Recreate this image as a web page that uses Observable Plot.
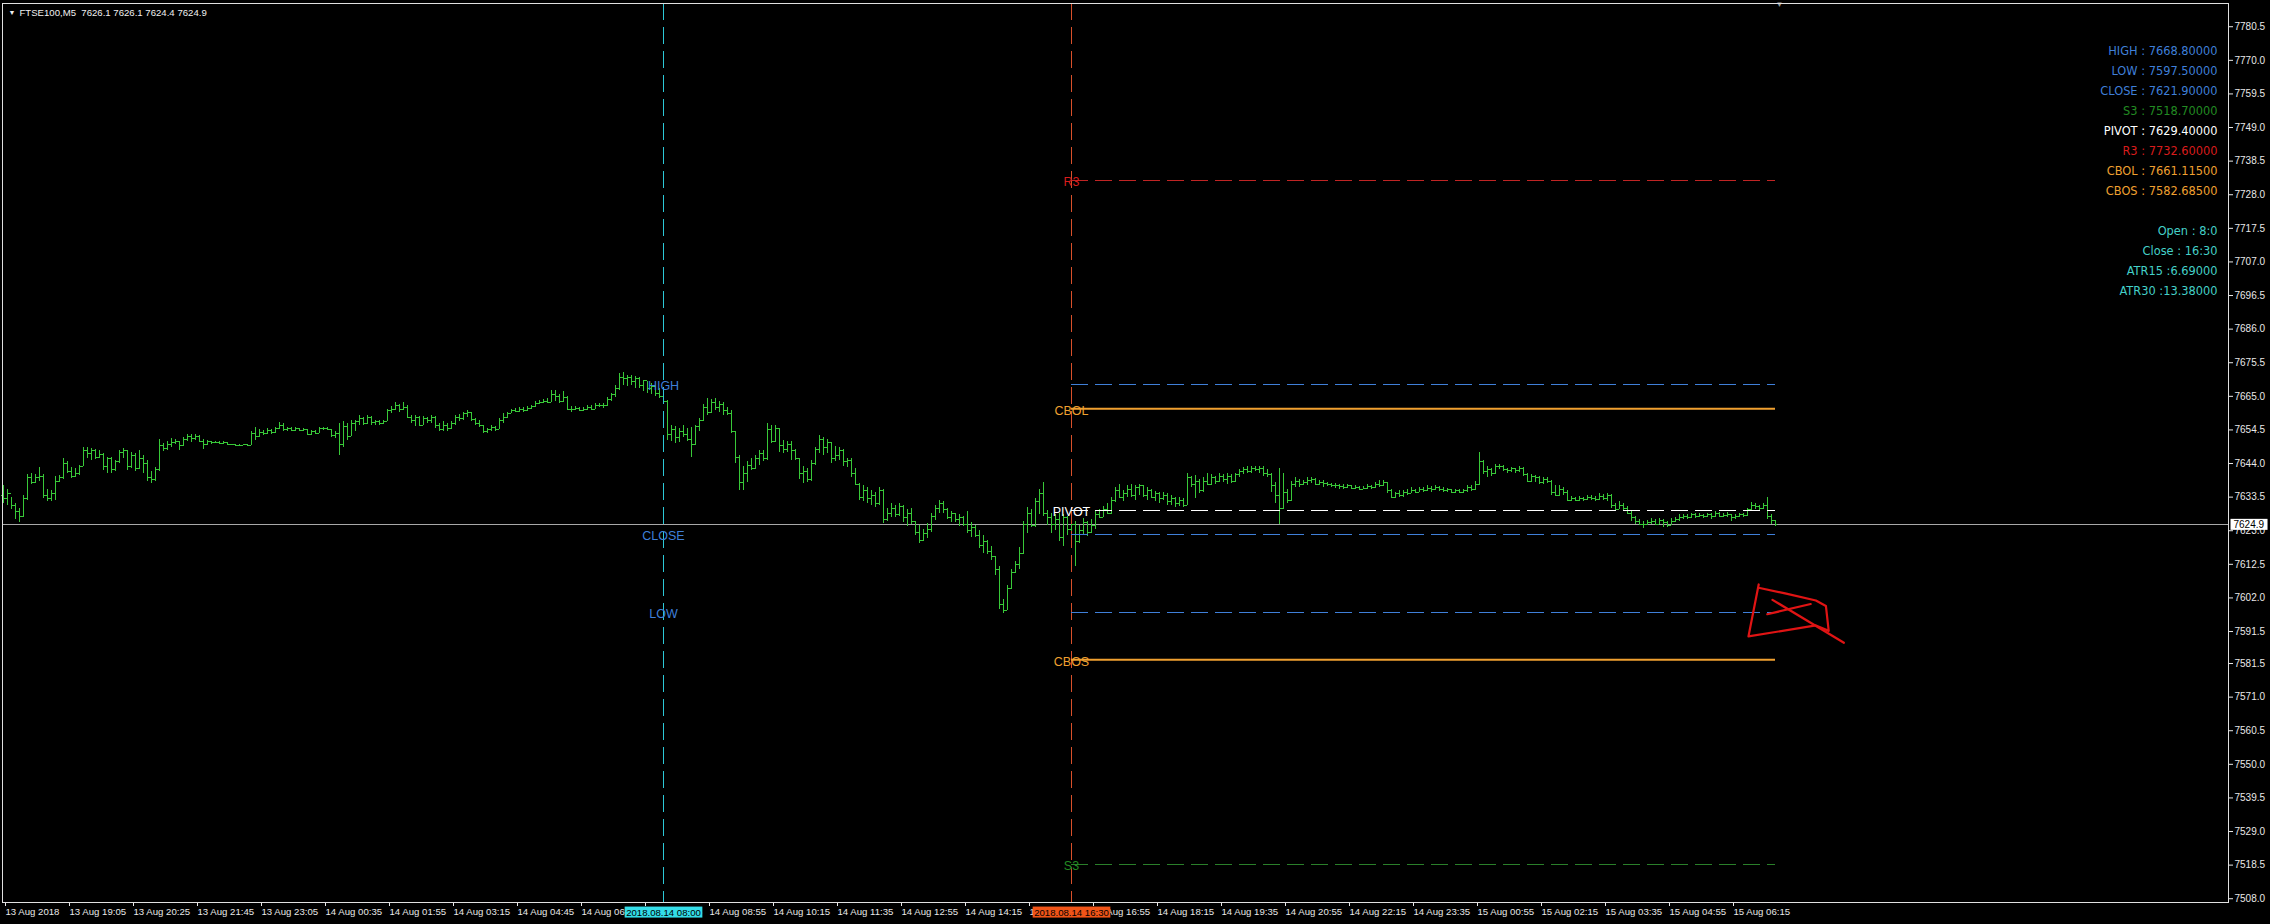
<!DOCTYPE html>
<html><head><meta charset="utf-8">
<script src="https://cdn.jsdelivr.net/npm/d3@7"></script>
<script src="https://cdn.jsdelivr.net/npm/@observablehq/plot@0.6"></script>
<style>html,body{margin:0;padding:0;background:#000;overflow:hidden}</style>
</head><body><div id="chart"></div>
<script>
// ---------------- DATA ----------------
const symbol = "FTSE100,M5";

const open = [
7634.0,7633.0,7634.5,7631.0,7629.0,7627.5,7633.0,7639.5,7638.0,7639.5,
7640.0,7634.0,7633.0,7634.5,7638.5,7639.5,7644.0,7641.5,7640.0,7641.0,
7643.0,7648.0,7647.0,7648.0,7646.0,7646.8,7643.0,7645.5,7642.0,7644.5,
7647.5,7648.0,7643.0,7646.5,7642.5,7645.5,7644.0,7639.5,7639.0,7642.0,
7649.5,7648.8,7650.0,7650.5,7651.0,7649.5,7651.5,7652.5,7651.8,7652.6,
7651.0,7649.8,7650.8,7650.5,7650.7,7650.3,7650.5,7650.0,7649.8,7649.7,
7649.7,7649.8,7649.7,7653.5,7652.5,7653.8,7653.5,7654.2,7653.8,7655.0,
7656.0,7654.5,7655.0,7654.3,7654.8,7654.2,7654.5,7653.2,7654.0,7653.5,
7654.8,7655.0,7654.5,7652.8,7653.5,7650.0,7655.5,7652.5,7656.5,7657.0,
7658.0,7656.5,7658.5,7656.8,7657.0,7656.5,7657.2,7660.5,7661.0,7662.0,
7661.0,7661.5,7658.5,7657.5,7658.5,7656.0,7658.0,7657.5,7658.5,7656.0,
7654.5,7656.0,7654.8,7656.5,7658.5,7658.0,7659.5,7660.0,7657.8,7656.5,
7656.0,7654.0,7654.5,7655.2,7654.5,7657.5,7658.5,7659.5,7660.5,7660.2,
7661.0,7660.5,7661.2,7661.8,7662.8,7663.0,7663.5,7663.0,7665.5,7665.0,
7663.5,7664.5,7661.0,7660.8,7661.2,7660.7,7661.0,7661.5,7661.0,7662.0,
7662.2,7662.0,7664.0,7665.5,7667.5,7671.0,7670.5,7671.0,7669.5,7670.5,
7668.5,7670.0,7667.5,7668.0,7666.0,7665.0,7663.5,7653.0,7654.5,7652.0,
7654.0,7653.0,7651.5,7650.0,7655.5,7657.5,7661.5,7660.0,7663.0,7661.5,
7662.5,7660.5,7659.5,7654.0,7646.0,7638.0,7641.0,7643.5,7642.5,7645.5,
7647.0,7645.5,7654.5,7651.0,7655.0,7649.5,7648.5,7650.0,7648.0,7645.5,
7641.0,7641.5,7639.0,7644.0,7648.5,7651.5,7649.0,7650.5,7645.5,7646.5,
7648.0,7644.5,7645.0,7641.0,7637.5,7633.5,7635.5,7633.0,7634.0,7631.5,
7635.5,7626.5,7628.5,7630.0,7628.0,7630.5,7627.0,7628.5,7626.0,7622.5,
7620.0,7622.0,7623.5,7627.5,7630.0,7631.5,7629.5,7627.0,7628.5,7626.5,
7627.0,7625.0,7623.0,7624.0,7621.5,7618.5,7619.5,7616.5,7615.0,7611.0,
7600.0,7598.0,7605.0,7610.0,7612.5,7616.0,7625.0,7628.5,7624.5,7632.0,
7634.5,7628.5,7627.0,7625.0,7626.5,7621.0,7627.0,7623.5,7625.0,7619.5,
7623.0,7625.5,7622.5,7624.5,7628.0,7627.0,7629.5,7628.5,7632.5,7635.5,
7633.5,7634.5,7636.0,7634.0,7636.5,7637.0,7634.0,7635.5,7633.5,7634.5,
7633.0,7634.0,7632.0,7633.0,7631.5,7632.5,7631.0,7639.5,7637.5,7638.5,
7635.5,7638.5,7637.5,7639.5,7638.5,7640.0,7639.0,7640.0,7638.5,7640.5,
7641.5,7642.0,7641.5,7642.5,7642.0,7642.5,7641.0,7640.5,7637.0,7634.0,
7630.0,7635.0,7632.5,7637.5,7638.5,7637.5,7638.0,7638.8,7639.0,7637.5,
7638.2,7637.8,7637.5,7637.0,7637.2,7636.8,7636.5,7637.0,7636.2,7636.5,
7636.0,7636.2,7636.8,7636.5,7637.5,7637.0,7638.0,7635.5,7633.5,7634.5,
7634.0,7635.0,7634.5,7635.5,7635.0,7636.0,7635.5,7636.2,7635.8,7636.5,
7636.0,7635.5,7635.8,7635.0,7635.5,7634.8,7635.5,7636.5,7636.0,7637.5,
7644.5,7641.5,7642.0,7641.0,7643.0,7643.0,7642.0,7641.8,7642.3,7641.7,
7642.5,7640.5,7638.5,7640.0,7639.5,7638.0,7639.0,7638.5,7635.0,7634.0,
7636.0,7635.0,7632.5,7633.0,7632.5,7633.2,7632.8,7633.5,7633.0,7632.8,
7633.8,7633.0,7634.0,7631.0,7629.5,7631.0,7630.0,7628.5,7627.0,7626.0,
7625.0,7624.8,7625.5,7625.8,7625.0,7626.2,7625.5,7624.5,7626.0,7626.5,
7627.0,7627.5,7627.0,7628.0,7627.5,7627.8,7627.3,7628.0,7627.5,7628.3,
7627.5,7627.8,7628.0,7627.0,7627.5,7628.0,7627.8,7629.5,7631.0,7630.5,
7630.0,7631.0,7627.5,7626.1
];

const high = [
7637.2,7636.0,7633.5,7631.5,7630.0,7634.0,7640.5,7641.0,7640.5,7642.9,
7640.5,7636.0,7635.5,7640.0,7640.3,7645.5,7644.5,7642.9,7642.5,7643.5,
7649.0,7649.0,7648.8,7648.5,7648.0,7647.0,7646.0,7646.0,7645.0,7648.0,
7648.6,7648.0,7647.5,7647.0,7648.0,7646.5,7645.0,7641.5,7642.9,7651.5,
7650.2,7650.8,7651.8,7651.5,7651.0,7652.0,7653.1,7653.0,7653.1,7652.8,
7651.5,7651.2,7651.0,7651.0,7650.8,7650.9,7650.6,7650.1,7650.0,7649.9,
7650.0,7649.9,7654.0,7655.4,7654.5,7654.2,7655.0,7654.5,7655.4,7656.7,
7656.5,7655.4,7655.2,7655.3,7655.0,7655.0,7654.6,7654.4,7654.2,7655.2,
7655.4,7655.3,7654.6,7654.0,7656.5,7657.0,7656.5,7657.5,7657.5,7659.1,
7658.5,7659.1,7658.6,7657.5,7657.5,7657.5,7661.0,7661.7,7663.2,7662.5,
7663.0,7662.0,7659.0,7659.1,7658.8,7658.6,7658.5,7659.1,7658.8,7656.5,
7657.0,7656.5,7657.0,7659.0,7659.2,7660.1,7660.5,7660.0,7658.0,7657.5,
7656.0,7655.0,7655.9,7655.5,7658.0,7659.6,7660.0,7661.0,7661.2,7661.5,
7661.6,7661.8,7662.2,7663.3,7663.8,7664.0,7664.3,7666.9,7666.8,7665.5,
7666.5,7665.0,7661.7,7661.7,7661.5,7661.6,7662.0,7662.2,7662.7,7662.7,
7662.7,7664.5,7665.8,7668.5,7672.0,7672.3,7671.6,7671.5,7671.2,7670.8,
7670.0,7669.5,7669.0,7668.5,7667.5,7666.0,7663.8,7655.9,7655.5,7655.0,
7655.9,7655.0,7655.4,7656.0,7658.0,7662.5,7664.3,7664.0,7664.3,7663.5,
7663.0,7661.5,7660.6,7654.0,7646.6,7643.0,7644.5,7645.5,7646.5,7648.1,
7648.0,7656.5,7656.0,7656.0,7655.0,7651.3,7651.0,7651.0,7648.5,7645.5,
7643.0,7642.5,7645.0,7649.0,7652.8,7652.0,7651.5,7650.5,7649.2,7649.0,
7648.5,7645.5,7645.5,7642.5,7637.7,7637.0,7636.5,7635.5,7635.0,7636.5,
7636.0,7630.0,7631.5,7631.0,7631.5,7631.0,7629.5,7630.0,7626.0,7624.5,
7623.5,7625.2,7628.5,7631.0,7632.5,7632.0,7630.0,7628.9,7628.5,7628.0,
7627.5,7628.9,7625.5,7624.5,7623.1,7621.5,7620.0,7618.0,7615.0,7611.7,
7601.5,7606.0,7611.0,7613.5,7617.9,7626.0,7630.4,7629.5,7633.0,7636.0,
7638.2,7629.4,7628.5,7628.0,7628.3,7628.0,7627.5,7628.0,7625.8,7624.5,
7626.9,7626.0,7626.5,7629.0,7629.5,7630.5,7631.4,7633.5,7636.5,7637.5,
7635.5,7637.0,7637.5,7637.0,7637.5,7637.0,7636.5,7636.0,7635.3,7635.0,
7635.0,7634.5,7634.0,7633.5,7633.5,7633.0,7640.9,7640.0,7640.2,7639.0,
7639.5,7640.9,7640.5,7640.0,7640.9,7640.5,7640.8,7640.5,7641.0,7642.0,
7642.8,7643.1,7643.0,7643.1,7643.1,7643.0,7642.0,7640.8,7638.0,7642.5,
7640.9,7636.0,7638.5,7639.7,7639.0,7638.8,7639.5,7639.7,7639.2,7638.8,
7638.6,7638.2,7637.8,7637.8,7637.5,7637.3,7637.5,7637.2,7637.0,7636.8,
7636.8,7637.3,7637.0,7638.0,7638.6,7638.6,7638.0,7636.0,7635.0,7635.5,
7635.5,7636.0,7636.4,7636.0,7636.6,7636.5,7637.0,7636.7,7637.0,7636.8,
7636.5,7636.3,7636.0,7636.0,7635.8,7636.0,7637.0,7637.0,7638.5,7647.6,
7645.0,7643.0,7642.5,7643.6,7643.6,7643.4,7642.5,7642.8,7642.5,7643.0,
7642.8,7640.9,7640.5,7640.2,7640.0,7639.6,7639.5,7638.8,7637.0,7637.0,
7636.5,7635.5,7633.8,7633.5,7633.8,7633.5,7634.0,7634.0,7633.7,7634.7,
7634.3,7634.7,7634.2,7631.5,7632.0,7631.5,7630.5,7629.1,7627.5,7626.5,
7626.0,7626.3,7626.9,7626.5,7626.9,7626.5,7626.0,7626.9,7627.0,7628.0,
7628.2,7628.0,7628.5,7628.5,7628.3,7628.0,7628.5,7628.3,7629.1,7628.8,
7628.5,7628.8,7628.2,7628.0,7628.5,7628.5,7630.0,7631.9,7631.5,7631.0,
7631.5,7633.4,7628.0,7626.1
];

const low = [
7631.5,7631.0,7629.5,7626.5,7625.7,7627.0,7632.5,7637.5,7637.8,7638.5,
7633.0,7632.0,7632.2,7632.5,7638.2,7639.0,7640.8,7639.3,7639.5,7640.2,
7643.0,7645.5,7645.0,7645.2,7645.5,7641.9,7641.0,7640.8,7641.5,7644.0,
7645.5,7641.9,7642.5,7641.5,7642.0,7641.0,7638.5,7637.7,7638.5,7641.5,
7647.8,7648.2,7649.0,7649.8,7648.1,7649.3,7650.8,7650.7,7651.2,7650.5,
7648.5,7649.7,7650.0,7650.2,7649.9,7650.1,7649.8,7649.5,7649.5,7649.5,
7649.5,7649.5,7649.5,7651.3,7652.2,7652.8,7653.0,7653.2,7653.5,7654.5,
7654.0,7653.9,7654.0,7654.1,7653.9,7654.0,7652.8,7652.8,7653.0,7653.5,
7654.2,7654.2,7652.2,7651.8,7646.6,7649.0,7651.3,7652.3,7654.0,7656.0,
7655.9,7656.2,7656.0,7655.9,7656.0,7656.2,7657.0,7659.6,7660.5,7660.1,
7660.5,7658.0,7656.5,7655.5,7655.5,7655.9,7656.5,7656.5,7654.9,7653.9,
7654.0,7654.0,7654.5,7656.0,7657.2,7657.5,7658.5,7657.0,7656.0,7655.4,
7653.5,7653.3,7654.0,7654.0,7654.5,7656.5,7658.0,7659.6,7659.8,7660.0,
7660.0,7660.3,7661.0,7661.5,7662.5,7662.7,7662.7,7663.0,7663.5,7662.7,
7663.0,7660.5,7660.1,7660.5,7660.2,7660.2,7660.5,7660.6,7661.0,7661.5,
7661.1,7661.8,7663.5,7664.5,7666.9,7668.5,7668.0,7668.5,7667.4,7667.5,
7666.5,7666.0,7665.5,7665.0,7664.3,7663.0,7651.3,7651.0,7650.2,7650.5,
7652.0,7650.8,7646.0,7649.5,7653.9,7657.0,7659.1,7659.5,7660.5,7660.0,
7659.1,7659.0,7653.3,7644.0,7635.6,7635.6,7638.0,7641.9,7642.0,7643.5,
7644.5,7645.0,7650.2,7650.5,7647.5,7647.0,7647.5,7645.0,7645.0,7639.0,
7637.7,7638.0,7638.5,7643.5,7647.0,7646.5,7647.0,7644.0,7644.5,7645.0,
7643.0,7642.9,7639.5,7637.0,7632.5,7632.0,7631.5,7631.0,7630.4,7631.0,
7625.2,7626.0,7627.0,7627.0,7627.5,7625.5,7624.2,7625.0,7621.5,7619.0,
7619.5,7620.5,7622.5,7626.3,7628.5,7628.5,7626.5,7625.5,7625.5,7624.2,
7624.2,7622.0,7621.0,7621.0,7617.5,7616.0,7615.5,7613.8,7609.0,7598.5,
7597.1,7598.0,7604.5,7609.5,7611.0,7615.5,7622.0,7624.0,7624.0,7628.0,
7627.5,7624.5,7622.1,7623.0,7619.5,7618.0,7621.5,7618.0,7611.8,7619.0,
7621.5,7621.3,7622.0,7623.5,7626.9,7627.0,7628.0,7628.0,7631.9,7633.0,
7632.0,7633.5,7633.5,7632.5,7634.0,7633.5,7632.5,7633.0,7632.0,7631.5,
7632.5,7630.8,7631.0,7630.3,7630.5,7630.3,7631.0,7636.5,7633.0,7634.5,
7635.0,7637.0,7637.2,7637.5,7638.0,7638.0,7637.5,7637.8,7638.0,7639.7,
7640.5,7640.8,7641.0,7641.5,7641.0,7640.0,7639.7,7635.0,7631.4,7624.9,
7629.5,7631.4,7632.0,7636.5,7636.4,7637.0,7637.2,7637.8,7637.0,7637.0,
7636.5,7636.8,7636.5,7636.3,7636.0,7636.0,7636.2,7635.8,7635.8,7635.8,
7635.8,7635.9,7636.0,7636.3,7636.5,7636.8,7634.5,7633.0,7633.0,7633.5,
7633.5,7634.0,7634.5,7634.7,7634.8,7635.0,7635.2,7635.0,7635.5,7635.3,
7635.0,7634.8,7634.7,7634.7,7634.7,7634.7,7635.0,7635.3,7635.5,7637.0,
7640.5,7639.7,7640.0,7640.5,7642.0,7641.5,7641.0,7641.2,7641.0,7641.2,
7639.8,7638.0,7638.0,7638.2,7637.5,7637.5,7637.8,7634.0,7633.6,7633.8,
7634.0,7632.0,7632.0,7632.0,7632.2,7632.0,7632.3,7632.5,7632.0,7632.5,
7632.5,7632.0,7630.0,7629.1,7629.5,7629.2,7628.0,7626.0,7625.0,7624.5,
7623.6,7624.5,7624.8,7624.5,7624.8,7624.1,7624.1,7624.5,7625.5,7626.0,
7626.5,7626.5,7626.8,7626.8,7627.0,7626.8,7627.0,7626.5,7627.2,7627.0,
7627.0,7627.2,7625.8,7626.5,7627.0,7627.2,7627.5,7629.1,7629.5,7629.3,
7629.5,7626.5,7625.0,7624.4
];

const close = [
7633.0,7634.5,7631.0,7629.0,7627.5,7633.0,7639.5,7638.0,7639.5,7640.0,
7634.0,7633.0,7634.5,7638.5,7639.5,7644.0,7641.5,7640.0,7641.0,7643.0,
7648.0,7647.0,7648.0,7646.0,7646.8,7643.0,7645.5,7642.0,7644.5,7647.5,
7648.0,7643.0,7646.5,7642.5,7645.5,7644.0,7639.5,7639.0,7642.0,7649.5,
7648.8,7650.0,7650.5,7651.0,7649.5,7651.5,7652.5,7651.8,7652.6,7651.0,
7649.8,7650.8,7650.5,7650.7,7650.3,7650.5,7650.0,7649.8,7649.7,7649.7,
7649.8,7649.7,7653.5,7652.5,7653.8,7653.5,7654.2,7653.8,7655.0,7656.0,
7654.5,7655.0,7654.3,7654.8,7654.2,7654.5,7653.2,7654.0,7653.5,7654.8,
7655.0,7654.5,7652.8,7653.5,7650.0,7655.5,7652.5,7656.5,7657.0,7658.0,
7656.5,7658.5,7656.8,7657.0,7656.5,7657.2,7660.5,7661.0,7662.0,7661.0,
7661.5,7658.5,7657.5,7658.5,7656.0,7658.0,7657.5,7658.5,7656.0,7654.5,
7656.0,7654.8,7656.5,7658.5,7658.0,7659.5,7660.0,7657.8,7656.5,7656.0,
7654.0,7654.5,7655.2,7654.5,7657.5,7658.5,7659.5,7660.5,7660.2,7661.0,
7660.5,7661.2,7661.8,7662.8,7663.0,7663.5,7663.0,7665.5,7665.0,7663.5,
7664.5,7661.0,7660.8,7661.2,7660.7,7661.0,7661.5,7661.0,7662.0,7662.2,
7662.0,7664.0,7665.5,7667.5,7671.0,7670.5,7671.0,7669.5,7670.5,7668.5,
7670.0,7667.5,7668.0,7666.0,7665.0,7663.5,7653.0,7654.5,7652.0,7654.0,
7653.0,7651.5,7650.0,7655.5,7657.5,7661.5,7660.0,7663.0,7661.5,7662.5,
7660.5,7659.5,7654.0,7646.0,7638.0,7641.0,7643.5,7642.5,7645.5,7647.0,
7645.5,7654.5,7651.0,7655.0,7649.5,7648.5,7650.0,7648.0,7645.5,7641.0,
7641.5,7639.0,7644.0,7648.5,7651.5,7649.0,7650.5,7645.5,7646.5,7648.0,
7644.5,7645.0,7641.0,7637.5,7633.5,7635.5,7633.0,7634.0,7631.5,7635.5,
7626.5,7628.5,7630.0,7628.0,7630.5,7627.0,7628.5,7626.0,7622.5,7620.0,
7622.0,7623.5,7627.5,7630.0,7631.5,7629.5,7627.0,7628.5,7626.5,7627.0,
7625.0,7623.0,7624.0,7621.5,7618.5,7619.5,7616.5,7615.0,7611.0,7600.0,
7598.0,7605.0,7610.0,7612.5,7616.0,7625.0,7628.5,7624.5,7632.0,7634.5,
7628.5,7627.0,7625.0,7626.5,7621.0,7627.0,7623.5,7625.0,7619.5,7623.0,
7625.5,7622.5,7624.5,7628.0,7627.0,7629.5,7628.5,7632.5,7635.5,7633.5,
7634.5,7636.0,7634.0,7636.5,7637.0,7634.0,7635.5,7633.5,7634.5,7633.0,
7634.0,7632.0,7633.0,7631.5,7632.5,7631.0,7639.5,7637.5,7638.5,7635.5,
7638.5,7637.5,7639.5,7638.5,7640.0,7639.0,7640.0,7638.5,7640.5,7641.5,
7642.0,7641.5,7642.5,7642.0,7642.5,7641.0,7640.5,7637.0,7634.0,7630.0,
7635.0,7632.5,7637.5,7638.5,7637.5,7638.0,7638.8,7639.0,7637.5,7638.2,
7637.8,7637.5,7637.0,7637.2,7636.8,7636.5,7637.0,7636.2,7636.5,7636.0,
7636.2,7636.8,7636.5,7637.5,7637.0,7638.0,7635.5,7633.5,7634.5,7634.0,
7635.0,7634.5,7635.5,7635.0,7636.0,7635.5,7636.2,7635.8,7636.5,7636.0,
7635.5,7635.8,7635.0,7635.5,7634.8,7635.5,7636.5,7636.0,7637.5,7644.5,
7641.5,7642.0,7641.0,7643.0,7643.0,7642.0,7641.8,7642.3,7641.7,7642.5,
7640.5,7638.5,7640.0,7639.5,7638.0,7639.0,7638.5,7635.0,7634.0,7636.0,
7635.0,7632.5,7633.0,7632.5,7633.2,7632.8,7633.5,7633.0,7632.8,7633.8,
7633.0,7634.0,7631.0,7629.5,7631.0,7630.0,7628.5,7627.0,7626.0,7625.0,
7624.8,7625.5,7625.8,7625.0,7626.2,7625.5,7624.5,7626.0,7626.5,7627.0,
7627.5,7627.0,7628.0,7627.5,7627.8,7627.3,7628.0,7627.5,7628.3,7627.5,
7627.8,7628.0,7627.0,7627.5,7628.0,7627.8,7629.5,7631.0,7630.5,7630.0,
7631.0,7627.5,7626.1,7624.9
];

// bottom time axis
const xTickBars = [0,16,32,48,64,80,96,112,128,144,160,176,192,208,224,240,256,272,288,304,320,336,352,368,384,400,416,432];
const xTickLabels = ["13 Aug 2018","13 Aug 19:05","13 Aug 20:25","13 Aug 21:45","13 Aug 23:05","14 Aug 00:35","14 Aug 01:55","14 Aug 03:15","14 Aug 04:45","14 Aug 06:15","14 Aug 07:35","14 Aug 08:55","14 Aug 10:15","14 Aug 11:35","14 Aug 12:55","14 Aug 14:15","14 Aug 15:35","14 Aug 16:55","14 Aug 18:15","14 Aug 19:35","14 Aug 20:55","14 Aug 22:15","14 Aug 23:35","15 Aug 00:55","15 Aug 02:15","15 Aug 03:35","15 Aug 04:55","15 Aug 06:15"];

// right price axis
const yTicks = [7780.5,7770.0,7759.5,7749.0,7738.5,7728.0,7717.5,7707.0,7696.5,7686.0,7675.5,7665.0,7654.5,7644.0,7633.5,7623.0,7612.5,7602.0,7591.5,7581.5,7571.0,7560.5,7550.0,7539.5,7529.0,7518.5,7508.0];

// indicator levels
const levelNames  = ["HIGH","LOW","CLOSE","S3","PIVOT","R3","CBOL","CBOS"];
const levelValues = [7668.8, 7597.5, 7621.9, 7518.7, 7629.4, 7732.6, 7661.115, 7582.685];

// session markers (bar index) and their labels
const sessionBars   = [165, 267];
const sessionStamps = ["2018.08.14 08:00", "2018.08.14 16:30"];
const levelsEndBar  = 443;
const sessionNames  = ["Open", "Close"];
const sessionTimes  = ["8:0", "16:30"];
const atrNames  = ["ATR15", "ATR30"];
const atrValues = [6.69, 13.38];

// hand-drawn red annotation (bar index, price)
const scribblePath  = [0,0,0,0,0,0,0,0,1,1,2,2];
const scribbleBar   = [438.8,436.25,453.1,456.3,455.6,453.1,445.4,439.05,440.95,451.8,442.25,460.1];
const scribblePrice = [7606.2,7590.0,7593.4,7591.7,7599.5,7601.2,7603.4,7605.1,7596.9,7600.1,7601.4,7588.0];

// ---------------- STYLES ----------------
const BLUE = "#3f7fd8", ORANGE = "#f0a030";
const levelStyle = {
  HIGH:  {color: BLUE,      line: BLUE,      dashed: true,  labelAt: 0},
  LOW:   {color: BLUE,      line: BLUE,      dashed: true,  labelAt: 0},
  CLOSE: {color: BLUE,      line: BLUE,      dashed: true,  labelAt: 0},
  S3:    {color: "#228b22", line: "#2a7f2a", dashed: true,  labelAt: 1},
  PIVOT: {color: "#ffffff", line: "#ffffff", dashed: true,  labelAt: 1},
  R3:    {color: "#d81c1c", line: "#c02424", dashed: true,  labelAt: 1},
  CBOL:  {color: ORANGE,    line: ORANGE,    dashed: false, labelAt: 1},
  CBOS:  {color: ORANGE,    line: ORANGE,    dashed: false, labelAt: 1}
};
const sessionLineColors = ["#2cc8d6", "#d8502a"];
const sessionBoxColors  = ["#33dde8", "#f05418"];
const INFO = "#44d0c8";
const BAR = "#38c838";
const FONT = "Liberation Sans, Arial, sans-serif";

// ---------------- BUILD ----------------
const n = close.length;
const bars = d3.range(n).map(i => ({i, o: open[i], h: high[i], l: low[i], c: close[i]}));
const levels = levelNames.map((name, k) => ({name, value: levelValues[k], ...levelStyle[name]}));
const tickLabel = new Map(xTickBars.map((b, k) => [b, xTickLabels[k]]));
const last = bars[n - 1];
const scribble = scribbleBar.map((b, k) => ({b, p: scribblePrice[k], z: scribblePath[k]}));

const panel = [
  ...levels.map(l => ({text: `${l.name} : ${l.value.toFixed(5)}`, color: l.color})),
  null,
  ...sessionNames.map((s, k) => ({text: `${s} : ${sessionTimes[k]}`, color: INFO})),
  ...atrNames.map((s, k) => ({text: `${s} :${atrValues[k].toFixed(5)}`, color: INFO}))
];

const marks = [
  // current price line
  Plot.ruleY([last.c], {stroke: "#a8a8a8", strokeWidth: 1, shapeRendering: "crispEdges"}),
  // bars
  Plot.ruleX(bars, {x: "i", y1: "l", y2: "h", stroke: BAR, strokeWidth: 1, shapeRendering: "crispEdges"}),
  Plot.ruleY(bars, {y: "o", x1: d => d.i - 0.45, x2: "i", stroke: BAR, strokeWidth: 1, shapeRendering: "crispEdges"}),
  Plot.ruleY(bars, {y: "c", x1: "i", x2: d => d.i + 0.45, stroke: BAR, strokeWidth: 1, shapeRendering: "crispEdges"}),
  // session vertical lines
  ...sessionBars.map((b, k) => Plot.ruleX([b], {stroke: sessionLineColors[k], strokeWidth: 1, strokeDasharray: "17,7"})),
  // level lines
  Plot.ruleY(levels.filter(l => l.dashed), {y: "value", x1: sessionBars[1], x2: levelsEndBar, stroke: "line", strokeWidth: 1, strokeDasharray: "17,7", shapeRendering: "crispEdges"}),
  Plot.ruleY(levels.filter(l => !l.dashed), {y: "value", x1: sessionBars[1], x2: levelsEndBar, stroke: "line", strokeWidth: 2}),
  // level labels
  Plot.text(levels, {x: d => sessionBars[d.labelAt], y: "value", text: "name", fill: "color", fontSize: 12.5, fontFamily: FONT, dy: 2, textAnchor: "middle"}),
  // red hand-drawn annotation
  Plot.line(scribble, {x: "b", y: "p", z: "z", stroke: "#e01414", strokeWidth: 2.2, strokeLinejoin: "round", strokeLinecap: "round"}),
  // axes
  Plot.axisY({anchor: "right", ticks: yTicks, tickFormat: d => d.toFixed(1), tickSize: 4, tickPadding: 2, fontSize: 10, fontFamily: FONT, color: "#e8e8e8", label: null}),
  Plot.axisX({anchor: "bottom", ticks: xTickBars, tickFormat: d => tickLabel.get(d), tickSize: 4, tickPadding: 2, textAnchor: "start", dx: 2, fontSize: 9.6, fontFamily: FONT, color: "#e8e8e8", label: null}),
  // session time stamps on the time axis
  ...sessionBars.map((b, k) => Plot.text([sessionStamps[k]], {x: () => b, frameAnchor: "bottom", dy: 10, lineAnchor: "middle", text: d => d, fill: "#000", fontSize: 9.6, fontFamily: FONT, ariaDescription: "stamp-" + k})),
  // current price box
  Plot.text([last.c], {y: d => d, frameAnchor: "right", dx: 5, textAnchor: "start", lineAnchor: "middle", text: d => d.toFixed(1), fill: "#000", fontSize: 10, fontFamily: FONT, ariaDescription: "price-box"}),
  // header
  Plot.text(["\u25BC"], {frameAnchor: "top-left", dx: 6, dy: 9, lineAnchor: "middle", textAnchor: "start", fill: "#f0f0f0", fontSize: 7, fontFamily: FONT}),
  Plot.text([`${symbol}\u00a0\u00a0${last.o.toFixed(1)} ${last.h.toFixed(1)} ${last.l.toFixed(1)} ${last.c.toFixed(1)}`], {frameAnchor: "top-left", dx: 17, dy: 9, lineAnchor: "middle", textAnchor: "start", fill: "#f0f0f0", fontSize: 9.6, fontFamily: FONT}),
  // chart-shift marker
  Plot.text(["\u25BC"], {x: () => n, frameAnchor: "top", dy: 1, lineAnchor: "middle", fill: "#9a9a9a", fontSize: 8, fontFamily: FONT}),
  // info panel
  ...panel.map((row, k) => row && Plot.text([row.text], {frameAnchor: "top-right", dx: -11, dy: 48 + 20 * k, lineAnchor: "middle", textAnchor: "end", fill: row.color, fontSize: 11.4, fontFamily: "DejaVu Sans, Verdana, sans-serif"})).filter(Boolean),
  Plot.frame({stroke: "#e0e0e0", strokeWidth: 1})
];

const chart = Plot.plot({
  width: 2270, height: 924,
  marginLeft: 2, marginRight: 42, marginTop: 3, marginBottom: 22,
  style: {background: "#000", color: "#fff", fontFamily: FONT},
  x: {domain: [-0.25, 556.25], axis: null},
  y: {domain: [7506.82, 7787.76], axis: null},
  marks
});
document.getElementById("chart").append(chart);

// put coloured boxes behind stamp / price texts
function boxBehind(label, fill, padX, padY) {
  chart.querySelectorAll(`g[aria-description="${label}"] text`).forEach(t => {
    const b = t.getBBox();
    const r = document.createElementNS("http://www.w3.org/2000/svg", "rect");
    r.setAttribute("x", b.x - padX);
    r.setAttribute("y", b.y - padY);
    r.setAttribute("width", b.width + 2 * padX);
    r.setAttribute("height", b.height + 2 * padY);
    r.setAttribute("fill", fill);
    const tr = t.getAttribute("transform");
    if (tr) r.setAttribute("transform", tr);
    t.parentNode.insertBefore(r, t);
  });
}
sessionBars.forEach((b, k) => boxBehind("stamp-" + k, sessionBoxColors[k], 1.5, 0));
boxBehind("price-box", "#ffffff", 3, 0);
</script>
</body></html>
